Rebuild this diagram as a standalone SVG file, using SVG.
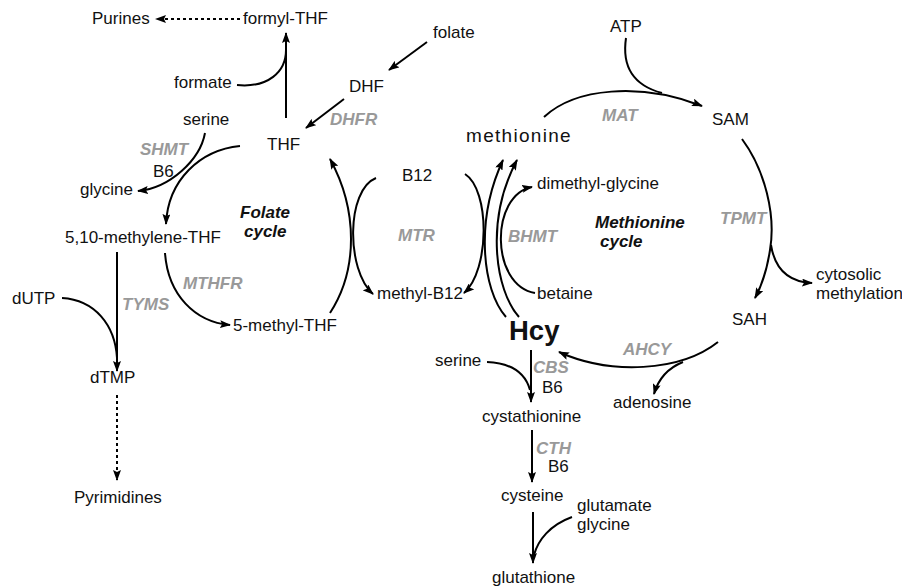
<svg xmlns="http://www.w3.org/2000/svg" width="902" height="587" viewBox="0 0 902 587">
<defs>
<marker id="arr" viewBox="0 0 11 8" refX="10" refY="4" markerWidth="11" markerHeight="8" markerUnits="userSpaceOnUse" orient="auto">
<path d="M0,0 L11,4 L0,8 L2,4 Z" fill="#000"/>
</marker>
<style>
text{font-family:"Liberation Sans",Arial,sans-serif;font-size:17px;fill:#111}
.enz{font-weight:bold;font-style:italic;fill:#999}
.cyc{font-weight:bold;font-style:italic;fill:#111}
.c{fill:none;stroke:#000;stroke-width:2}
.a{marker-end:url(#arr)}
.dot{stroke-dasharray:3 3}
</style>
</defs>
<rect width="902" height="587" fill="#fff"/>
<g id="connectors">
<path class="c a dot" d="M240,19 L156,19"/>
<path class="c a" d="M427,42 L389,70"/>
<path class="c a" d="M344,99 L306,128"/>
<path class="c a" d="M286,118 L286,33"/>
<path class="c" d="M237,85 C268,88 286,72 286,50"/>
<path class="c a" d="M205,133 C200,160 170,188 138,191"/>
<path class="c a" d="M240,146 C200,150 168,180 166,224"/>
<path class="c a" d="M117,252 L117,371"/>
<path class="c" d="M62,298 C95,300 115,325 117,358"/>
<path class="c a dot" d="M117,395 L117,480"/>
<path class="c a" d="M165,253 C168,295 195,322 230,325"/>
<path class="c a" d="M330,313 C358,270 358,210 330,159"/>
<path class="c a" d="M376,178 C346,190 346,270 373,294"/>
<path class="c a" d="M465,174 C490,190 490,270 464,293"/>
<path class="c a" d="M506,317 C482,290 475,220 503,160"/>
<path class="c a" d="M519,317 C495,290 485,220 517,160"/>
<path class="c a" d="M535,293 C490,285 490,195 532,187"/>
<path class="c a" d="M544,117 C575,88 640,82 702,106"/>
<path class="c" d="M626,38 C622,65 632,85 662,93"/>
<path class="c a" d="M742,139 C765,170 776,215 770,250 C767,270 762,285 755,298"/>
<path class="c a" d="M771,245 C775,270 790,282 812,283"/>
<path class="c a" d="M718,342 C680,372 610,375 559,352"/>
<path class="c a" d="M683,362 C668,368 658,380 654,394"/>
<path class="c a" d="M531,350 L531,402"/>
<path class="c" d="M487,362 C510,363 525,372 530,390"/>
<path class="c a" d="M532,430 L532,482"/>
<path class="c a" d="M533,512 L533,563"/>
<path class="c" d="M572,517 C550,525 538,540 534,555"/>
</g>
<g id="purines"><text x="92" y="24">Purines</text></g>
<g id="formyl-thf"><text x="243" y="24">formyl-THF</text></g>
<g id="folate"><text x="433" y="38">folate</text></g>
<g id="dhf"><text x="349" y="92">DHF</text></g>
<g id="dhfr"><text class="enz" x="330" y="125">DHFR</text></g>
<g id="formate"><text x="174" y="88">formate</text></g>
<g id="serine1"><text x="183" y="125">serine</text></g>
<g id="thf"><text x="267" y="150">THF</text></g>
<g id="shmt"><text class="enz" x="140" y="155">SHMT</text><text x="153" y="177">B6</text></g>
<g id="glycine1"><text x="80" y="195">glycine</text></g>
<g id="methylene-thf"><text x="65" y="243">5,10-methylene-THF</text></g>
<g id="folate-cycle"><text class="cyc" x="240" y="218">Folate</text><text class="cyc" x="244" y="237">cycle</text></g>
<g id="mthfr"><text class="enz" x="183" y="289">MTHFR</text></g>
<g id="dutp"><text x="12" y="304">dUTP</text></g>
<g id="tyms"><text class="enz" x="122" y="310">TYMS</text></g>
<g id="methyl-thf"><text x="233" y="331">5-methyl-THF</text></g>
<g id="dtmp"><text x="90" y="383">dTMP</text></g>
<g id="pyrimidines"><text x="74" y="503">Pyrimidines</text></g>
<g id="atp"><text x="610" y="32">ATP</text></g>
<g id="mat"><text class="enz" x="602" y="121">MAT</text></g>
<g id="sam"><text x="712" y="125">SAM</text></g>
<g id="methionine"><text x="466" y="142" style="font-size:19px;letter-spacing:1.3px">methionine</text></g>
<g id="b12"><text x="402" y="181">B12</text></g>
<g id="dimethyl-glycine"><text x="537" y="189">dimethyl-glycine</text></g>
<g id="mtr"><text class="enz" x="398" y="241">MTR</text></g>
<g id="bhmt"><text class="enz" x="508" y="242">BHMT</text></g>
<g id="methionine-cycle"><text class="cyc" x="595" y="228">Methionine</text><text class="cyc" x="600" y="247">cycle</text></g>
<g id="tpmt"><text class="enz" x="720" y="224">TPMT</text></g>
<g id="cytosolic"><text x="816" y="280">cytosolic</text><text x="816" y="299">methylation</text></g>
<g id="sah"><text x="732" y="325">SAH</text></g>
<g id="methyl-b12"><text x="377" y="299">methyl-B12</text></g>
<g id="betaine"><text x="537" y="299">betaine</text></g>
<g id="hcy"><text x="509" y="340" style="font-size:27.5px;font-weight:bold">Hcy</text></g>
<g id="ahcy"><text class="enz" x="623" y="355">AHCY</text></g>
<g id="serine2"><text x="435" y="366">serine</text></g>
<g id="cbs"><text class="enz" x="533" y="373">CBS</text><text x="542" y="393">B6</text></g>
<g id="adenosine"><text x="613" y="408">adenosine</text></g>
<g id="cystathionine"><text x="482" y="422">cystathionine</text></g>
<g id="cth"><text class="enz" x="536" y="454">CTH</text><text x="548" y="472">B6</text></g>
<g id="cysteine"><text x="501" y="501">cysteine</text></g>
<g id="glutamate"><text x="577" y="511">glutamate</text><text x="577" y="530">glycine</text></g>
<g id="glutathione"><text x="492" y="583">glutathione</text></g>
</svg>
